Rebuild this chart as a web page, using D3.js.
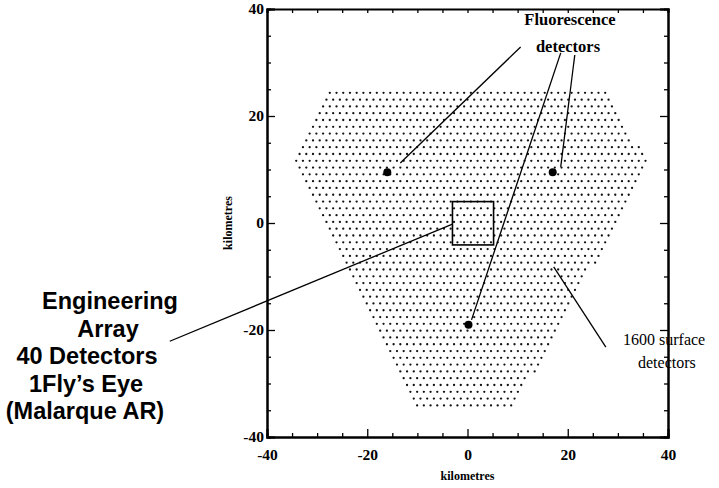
<!DOCTYPE html>
<html>
<head>
<meta charset="utf-8">
<script src="https://cdn.jsdelivr.net/npm/d3@7"></script>
<style>
  html, body { margin: 0; padding: 0; background: #fff; }
  svg { display: block; }
  .tick text { font-family: "Liberation Serif", "DejaVu Serif", serif; font-weight: bold; font-size: 15.5px; fill: #000; }
</style>
</head>
<body>
<svg id="chart" width="719" height="488"></svg>
<script>
// Ground array layout (kilometres)
const arrayOutline = [[-26.8, 25.6], [27.6, 25.6], [36.2, 10.7], [9.0, -35.3], [-9.4, -35.3], [-35.0, 10.7]];
const colSpacingKm = 1.34;
const rowSpacingKm = 1.27;

// Fluorescence detector sites
const fluorescenceSites = [[-16, 9.5], [17, 9.5], [0.2, -19]];

// Engineering array box
const engineeringBox = [[-3, 4], [5.2, -4.1]];

// Callout lines [from, to] in km
const callouts = [
  [[10.6, 32.9], [-13.4, 11.2]],
  [[18.6, 31.8], [0.8, -18.1]],
  [[21.4, 31.4], [18.6, 10.5]],
  [[-3, -0.2], [-59.4, -22.1]],
  [[17.2, -8.2], [27.6, -23.2]]
];

const majorTicks = [-40, -20, 0, 20, 40];
const minorTicks = [-35, -30, -25, -15, -10, -5, 5, 10, 15, 25, 30, 35];

const sideLines = ["Engineering", "Array", "40 Detectors", "1Fly\u2019s Eye", "(Malarque AR)"];
const sideLineX = [110, 108, 87, 86, 85];

const svg = d3.select("#chart");
const x = d3.scaleLinear().domain([-40, 40]).range([267, 668]);
const y = d3.scaleLinear().domain([-40, 40]).range([437, 9]);
const plain = d => String(d);

// Surface detector lattice, clipped to the array outline
const dots = [];
for (let r = 0; ; r++) {
  const yy = arrayOutline[0][1] - r * rowSpacingKm;
  if (yy < -36) break;
  const off = (r % 2) ? colSpacingKm / 2 : 0;
  for (let k = -40; k <= 40; k++) {
    const xx = k * colSpacingKm + off;
    if (d3.polygonContains(arrayOutline, [xx, yy])) dots.push([xx, yy]);
  }
}
svg.append("g").selectAll("circle").data(dots).join("circle")
  .attr("cx", d => x(d[0])).attr("cy", d => y(d[1]))
  .attr("r", 1.15).attr("fill", "#111");

// Axes on all four sides, ticks pointing inward
function styleAxis(g) {
  g.select(".domain").attr("stroke", "#000").attr("stroke-width", 2);
  g.selectAll(".tick line").attr("stroke", "#000").attr("stroke-width", 1.3);
}
svg.append("g").attr("transform", `translate(${x(-40)},0)`)
  .call(d3.axisLeft(y).tickValues(majorTicks).tickSize(-8).tickPadding(3).tickFormat(plain))
  .call(styleAxis);
svg.append("g").attr("transform", `translate(${x(-40)},0)`)
  .call(d3.axisLeft(y).tickValues(minorTicks).tickSize(-4).tickFormat(""))
  .call(styleAxis);
svg.append("g").attr("transform", `translate(0,${y(-40)})`)
  .call(d3.axisBottom(x).tickValues(majorTicks).tickSize(-8).tickPadding(12).tickFormat(plain))
  .call(styleAxis);
svg.append("g").attr("transform", `translate(0,${y(-40)})`)
  .call(d3.axisBottom(x).tickValues(minorTicks).tickSize(-4).tickFormat(""))
  .call(styleAxis);
svg.append("g").attr("transform", `translate(0,${y(40)})`)
  .call(d3.axisTop(x).tickValues(majorTicks.concat(minorTicks)).tickSize(-4).tickFormat(""))
  .call(styleAxis);
svg.append("g").attr("transform", `translate(${x(40)},0)`)
  .call(d3.axisRight(y).tickValues(majorTicks).tickSize(-8).tickFormat(""))
  .call(styleAxis);
svg.append("g").attr("transform", `translate(${x(40)},0)`)
  .call(d3.axisRight(y).tickValues(minorTicks).tickSize(-4).tickFormat(""))
  .call(styleAxis);

// Axis titles
svg.append("text").attr("x", x(0)).attr("y", 480).attr("text-anchor", "middle")
  .attr("font-family", "Liberation Serif, serif").attr("font-size", 12).attr("font-weight", "bold")
  .text("kilometres");
svg.append("text").attr("transform", `translate(232,${y(0)}) rotate(-90)`).attr("text-anchor", "middle")
  .attr("font-family", "Liberation Serif, serif").attr("font-size", 12).attr("font-weight", "bold")
  .text("kilometres");

// Engineering array box
svg.append("rect")
  .attr("x", x(engineeringBox[0][0])).attr("y", y(engineeringBox[0][1]))
  .attr("width", x(engineeringBox[1][0]) - x(engineeringBox[0][0]))
  .attr("height", y(engineeringBox[1][1]) - y(engineeringBox[0][1]))
  .attr("fill", "none").attr("stroke", "#000").attr("stroke-width", 1.6);

// Callout lines
svg.append("g").selectAll("line").data(callouts).join("line")
  .attr("x1", d => x(d[0][0])).attr("y1", d => y(d[0][1]))
  .attr("x2", d => x(d[1][0])).attr("y2", d => y(d[1][1]))
  .attr("stroke", "#000").attr("stroke-width", 1.3);

// Fluorescence detector sites
svg.append("g").selectAll("circle").data(fluorescenceSites).join("circle")
  .attr("cx", d => x(d[0])).attr("cy", d => y(d[1])).attr("r", 4).attr("fill", "#000");

// Annotations
const serif = "Liberation Serif, serif";
svg.append("text").attr("x", 570).attr("y", 25).attr("text-anchor", "middle")
  .attr("font-family", serif).attr("font-weight", "bold").attr("font-size", 16.5).text("Fluorescence");
svg.append("text").attr("x", 568).attr("y", 52).attr("text-anchor", "middle")
  .attr("font-family", serif).attr("font-weight", "bold").attr("font-size", 16.5).text("detectors");
svg.append("text").attr("x", 623).attr("y", 345)
  .attr("font-family", serif).attr("font-size", 16).text("1600 surface");
svg.append("text").attr("x", 638).attr("y", 368)
  .attr("font-family", serif).attr("font-size", 16).text("detectors");

svg.append("g").selectAll("text").data(sideLines).join("text")
  .attr("x", (d, i) => sideLineX[i]).attr("y", (d, i) => 309 + i * 27.5)
  .attr("text-anchor", "middle")
  .attr("font-family", "Liberation Sans, Arial, sans-serif").attr("font-weight", "bold").attr("font-size", 23.5)
  .text(d => d);
</script>
</body>
</html>
